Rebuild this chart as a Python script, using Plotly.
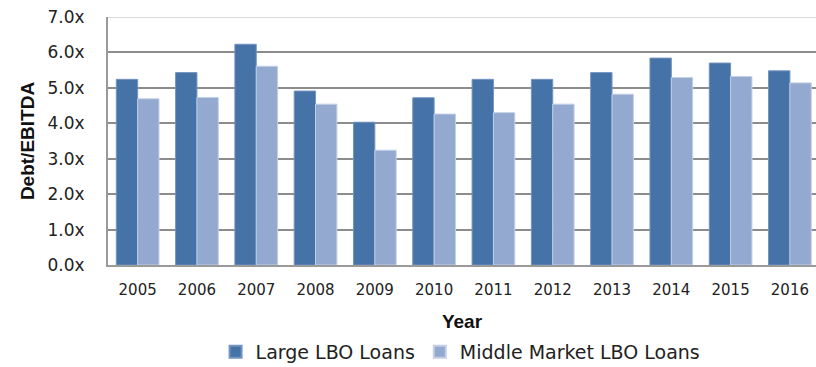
import plotly.graph_objects as go

years = ["2005", "2006", "2007", "2008", "2009", "2010",
         "2011", "2012", "2013", "2014", "2015", "2016"]
large_lbo = [5.24, 5.43, 6.23, 4.91, 4.03, 4.72, 5.24, 5.24, 5.43, 5.84, 5.70, 5.48]
middle_market_lbo = [4.69, 4.73, 5.61, 4.54, 3.24, 4.26, 4.30, 4.54, 4.82, 5.29, 5.32, 5.14]
y_ticks = [0, 1, 2, 3, 4, 5, 6, 7]
y_tick_text = ["0.0x", "1.0x", "2.0x", "3.0x", "4.0x", "5.0x", "6.0x", "7.0x"]

label_font = "Century Gothic, DejaVu Sans, sans-serif"
bold_font = "Liberation Sans, Arial, sans-serif"

fig = go.Figure()
fig.add_trace(go.Bar(
    x=years, y=large_lbo, name="Large LBO Loans",
    marker=dict(color="#4572A7", line=dict(color="#7393c0", width=1)),
))
fig.add_trace(go.Bar(
    x=years, y=middle_market_lbo, name="Middle Market LBO Loans",
    marker=dict(color="#94A9CF", line=dict(color="#c2cfe5", width=1)),
))

# pale top border of the plot area
fig.add_shape(type="line", xref="paper", yref="y", x0=0, x1=1, y0=7, y1=7,
              line=dict(color="#d9d9d9", width=2), layer="above")

fig.update_layout(
    width=816, height=367,
    margin=dict(l=108, r=0, t=17, b=102, autoexpand=False),
    paper_bgcolor="white", plot_bgcolor="white",
    barmode="group", bargap=0.28, bargroupgap=0,
    showlegend=True,
    legend=dict(orientation="h", x=0.498, xanchor="center",
                y=-0.274, yanchor="top",
                font=dict(family=label_font, size=19, color="#222"),
                itemwidth=30, traceorder="normal", itemsizing="constant"),
    xaxis=dict(
        type="category", range=[-0.5, 11.44],
        showgrid=False, showline=True, linecolor="#9a9a9a", linewidth=2,
        ticks="", ticklabelstandoff=10,
        tickfont=dict(family=label_font, size=15, color="#222"),
        title=dict(text="<b>Year</b>", font=dict(family=bold_font, size=19, color="#111"),
                   standoff=17),
    ),
    yaxis=dict(
        range=[0, 7], tickvals=y_ticks, ticktext=y_tick_text,
        showgrid=True, gridcolor="#8c8c8c", gridwidth=1.5,
        showline=True, linecolor="#9a9a9a", linewidth=2,
        zeroline=False, ticks="", ticklabelstandoff=18,
        tickfont=dict(family=label_font, size=17, color="#222"),
        title=dict(text="<b>Debt/EBITDA</b>", font=dict(family=bold_font, size=19, color="#111"),
                   standoff=8),
    ),
)

fig.write_html("out.html")
